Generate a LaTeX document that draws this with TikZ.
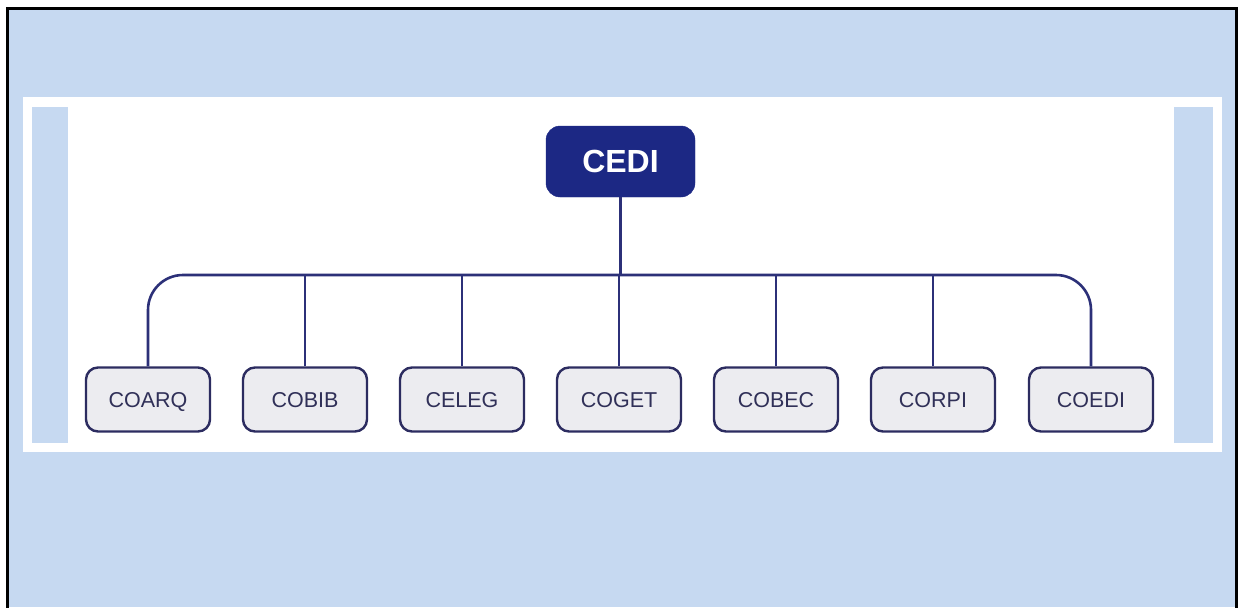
\documentclass[tikz,border=0pt]{standalone}
\usepackage{fontspec}
\setmainfont{Liberation Sans}
\definecolor{bgblue}{HTML}{C6D9F1}
\definecolor{navy}{RGB}{28,40,132}
\definecolor{linenavy}{RGB}{44,48,120}
\definecolor{boxline}{RGB}{44,44,96}
\definecolor{boxfill}{RGB}{236,236,240}
\definecolor{boxtext}{RGB}{48,48,88}
\tikzset{
  topbox/.style={draw=navy, fill=navy, rounded corners=14pt, minimum width=149pt, minimum height=71pt, inner sep=0pt,
    text=white, font=\bfseries\fontsize{32}{36}\selectfont},
  childbox/.style={draw=boxline, fill=boxfill, line width=2.4pt, rounded corners=12pt, minimum width=124pt, minimum height=64pt,
    inner sep=0pt, text=boxtext, text height=15pt, text depth=0pt, font=\fontsize{21.5}{24}\selectfont},
  conn/.style={draw=linenavy, line width=2.6pt}
}
\begin{document}
\begin{tikzpicture}[x=1pt,y=-1pt]
\useasboundingbox (0,0) rectangle (1238,607);
% background
\fill[bgblue] (9,10) rectangle (1235,607);
\draw[black, line width=3.2pt] (7.5,620) -- (7.5,8.5) -- (1236.5,8.5) -- (1236.5,620);
\fill[white] (23,97) rectangle (1222,452);
\fill[bgblue] (32,107) rectangle (68,443);
\fill[bgblue] (1174,107) rectangle (1213,443);
% nodes
\node[topbox] (cedi) at (620.5,161.5) {CEDI};
\coordinate (bus) at (620,275);
\node[childbox] (coarq) at (148,399.5) {COARQ};
\node[childbox] (cobib) at (305,399.5) {COBIB};
\node[childbox] (celeg) at (462,399.5) {CELEG};
\node[childbox] (coget) at (619,399.5) {COGET};
\node[childbox] (cobec) at (776,399.5) {COBEC};
\node[childbox] (corpi) at (933,399.5) {CORPI};
\node[childbox] (coedi) at (1091,399.5) {COEDI};
% connectors
\draw[conn, rounded corners=35pt] (coarq.north) |- (coedi.north |- bus) -- (coedi.north);
\draw[conn] (cedi.south) -- (cedi.south |- bus);
\foreach \n in {cobib,celeg,coget,cobec,corpi}
  \draw[conn] (\n.north) -- (\n.north |- bus);
\end{tikzpicture}
\end{document}
